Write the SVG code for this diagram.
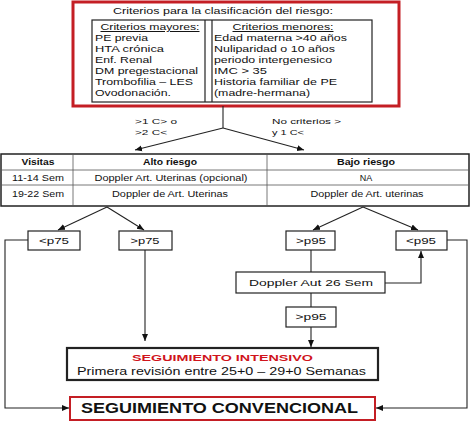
<svg xmlns="http://www.w3.org/2000/svg" width="471" height="425" viewBox="0 0 471 425">
<style>
text{font-family:"Liberation Sans",Arial,sans-serif;fill:#111}
.t{font-size:9.8px}
.s{font-size:8.5px}
.p{font-size:9.3px}
.b{font-weight:bold}
.c{text-anchor:middle}
.box{fill:#fff;stroke:#222;stroke-width:1.2}
.ln{fill:none;stroke:#222;stroke-width:1.1}
</style>
<defs>
<marker id="ah" markerWidth="8" markerHeight="8" refX="7" refY="4" orient="auto" markerUnits="userSpaceOnUse">
<path d="M0,1 L7,4 L0,7 Z" fill="#111"/>
</marker>
</defs>
<rect width="471" height="425" fill="#fff"/>

<g id="criterios">
<rect x="73" y="2" width="326" height="104" fill="#fff" stroke="#c41e24" stroke-width="3"/>
<text class="t c" x="223" y="14" textLength="220" lengthAdjust="spacingAndGlyphs">Criterios para la clasificación del riesgo:</text>
<rect x="92" y="20" width="280" height="82" fill="none" stroke="#222" stroke-width="1.2"/>
<line x1="205" y1="20" x2="205" y2="102" stroke="#222" stroke-width="1.2"/>
<line x1="212" y1="20" x2="212" y2="102" stroke="#222" stroke-width="1.2"/>
<text class="t c" x="150" y="30" textLength="99" lengthAdjust="spacingAndGlyphs" style="text-decoration:underline">Criterios mayores:</text>
<text class="t" x="95" y="41" textLength="53" lengthAdjust="spacingAndGlyphs">PE previa</text>
<text class="t" x="95" y="52" textLength="69" lengthAdjust="spacingAndGlyphs">HTA crónica</text>
<text class="t" x="95" y="63" textLength="57" lengthAdjust="spacingAndGlyphs">Enf. Renal</text>
<text class="t" x="95" y="74" textLength="103" lengthAdjust="spacingAndGlyphs">DM pregestacional</text>
<text class="t" x="95" y="85" textLength="98" lengthAdjust="spacingAndGlyphs">Trombofilia – LES</text>
<text class="t" x="95" y="96" textLength="76" lengthAdjust="spacingAndGlyphs">Ovodonación.</text>
<text class="t c" x="283" y="30" textLength="101" lengthAdjust="spacingAndGlyphs" style="text-decoration:underline">Criterios menores:</text>
<text class="t" x="214" y="41" textLength="133" lengthAdjust="spacingAndGlyphs">Edad materna &gt;40 años</text>
<text class="t" x="214" y="52" textLength="121" lengthAdjust="spacingAndGlyphs">Nuliparidad  o 10 años</text>
<text class="t" x="214" y="63" textLength="118" lengthAdjust="spacingAndGlyphs">periodo intergenesico</text>
<text class="t" x="214" y="74" textLength="53" lengthAdjust="spacingAndGlyphs">IMC &gt; 35</text>
<text class="t" x="214" y="85" textLength="123" lengthAdjust="spacingAndGlyphs">Historia familiar de PE</text>
<text class="t" x="214" y="96" textLength="96" lengthAdjust="spacingAndGlyphs">(madre-hermana)</text>
</g>

<g id="tabla">
<rect x="1" y="154" width="468" height="52" fill="#fff" stroke="#222" stroke-width="1.5"/>
<line x1="1" y1="170" x2="469" y2="170" stroke="#555" stroke-width="0.8"/>
<line x1="1" y1="185" x2="469" y2="185" stroke="#555" stroke-width="0.8"/>
<line x1="73" y1="154" x2="73" y2="206" stroke="#555" stroke-width="0.8"/>
<line x1="267" y1="154" x2="267" y2="206" stroke="#555" stroke-width="0.8"/>
<text class="s b c" x="38" y="165" textLength="33" lengthAdjust="spacingAndGlyphs">Visitas</text>
<text class="s b c" x="170" y="165" textLength="54" lengthAdjust="spacingAndGlyphs">Alto riesgo</text>
<text class="s b c" x="366" y="165" textLength="58" lengthAdjust="spacingAndGlyphs">Bajo riesgo</text>
<text class="s c" x="38" y="181" textLength="52" lengthAdjust="spacingAndGlyphs">11-14 Sem</text>
<text class="s c" x="171" y="181" textLength="153" lengthAdjust="spacingAndGlyphs">Doppler Art. Uterinas (opcional)</text>
<text class="s c" x="366" y="181" style="font-size:9px">NA</text>
<text class="s c" x="38" y="197" textLength="52" lengthAdjust="spacingAndGlyphs">19-22 Sem</text>
<text class="s c" x="170" y="197" textLength="116" lengthAdjust="spacingAndGlyphs">Doppler de Art. Uterinas</text>
<text class="s c" x="367" y="197" textLength="113" lengthAdjust="spacingAndGlyphs">Doppler de Art. uterinas</text>
</g>

<g id="p75menor"><rect class="box" x="28" y="231" width="52" height="19"/><text class="p c" x="54" y="244" textLength="30" lengthAdjust="spacingAndGlyphs">&lt;p75</text></g>
<g id="p75mayor"><rect class="box" x="119" y="231" width="53" height="19"/><text class="p c" x="145" y="244" textLength="29" lengthAdjust="spacingAndGlyphs">&gt;p75</text></g>
<g id="p95mayor"><rect class="box" x="286" y="231" width="49" height="19"/><text class="p c" x="311" y="244" textLength="30" lengthAdjust="spacingAndGlyphs">&gt;p95</text></g>
<g id="p95menor"><rect class="box" x="396" y="231" width="51" height="19"/><text class="p c" x="421" y="244" textLength="30" lengthAdjust="spacingAndGlyphs">&lt;p95</text></g>
<g id="doppler26"><rect class="box" x="236" y="272" width="149" height="21"/><text class="p c" x="311" y="286" textLength="124" lengthAdjust="spacingAndGlyphs">Doppler Aut 26 Sem</text></g>
<g id="p95mayor2"><rect class="box" x="286" y="307" width="50" height="20"/><text class="p c" x="311" y="320" textLength="31" lengthAdjust="spacingAndGlyphs">&gt;p95</text></g>

<g id="intensivo">
<rect x="67" y="348" width="311" height="32" fill="#fff" stroke="#222" stroke-width="2.2"/>
<text class="b c" x="222.5" y="361" textLength="181" lengthAdjust="spacingAndGlyphs" style="font-size:9.5px;fill:#d0141c">SEGUIMIENTO INTENSIVO</text>
<text class="c" x="221.5" y="375" textLength="289" lengthAdjust="spacingAndGlyphs" style="font-size:11.5px">Primera revisión entre 25+0 – 29+0 Semanas</text>
</g>

<g id="convencional">
<rect x="70" y="397" width="305" height="23" fill="#fff" stroke="#c41e24" stroke-width="2"/>
<text class="b c" x="219.5" y="413" textLength="277" lengthAdjust="spacingAndGlyphs" style="font-size:14px">SEGUIMIENTO CONVENCIONAL</text>
</g>

<g id="conectores">
<polyline class="ln" points="223,106 223,128"/>
<line class="ln" x1="223" y1="128" x2="135" y2="150" marker-end="url(#ah)"/>
<line class="ln" x1="223" y1="128" x2="304" y2="150" marker-end="url(#ah)"/>
<line class="ln" x1="107" y1="207" x2="58" y2="230" marker-end="url(#ah)"/>
<line class="ln" x1="107" y1="207" x2="144" y2="230" marker-end="url(#ah)"/>
<line class="ln" x1="363" y1="207" x2="313" y2="230" marker-end="url(#ah)"/>
<line class="ln" x1="363" y1="207" x2="418" y2="230" marker-end="url(#ah)"/>
<polyline class="ln" points="28,240 5,240 5,408 69,408" marker-end="url(#ah)"/>
<polyline class="ln" points="145,250 145,341" marker-end="url(#ah)"/>
<polyline class="ln" points="311,250 311,272"/>
<polyline class="ln" points="385,283 421,283 421,251" marker-end="url(#ah)"/>
<polyline class="ln" points="311,293 311,307"/>
<polyline class="ln" points="311,327 311,347" marker-end="url(#ah)"/>
<polyline class="ln" points="447,240 467,240 467,408 376,408" marker-end="url(#ah)"/>
<text x="135" y="124" textLength="42" lengthAdjust="spacingAndGlyphs" style="font-size:8px">&gt;1 C&gt; o</text>
<text x="135" y="135" textLength="32" lengthAdjust="spacingAndGlyphs" style="font-size:8px">&gt;2 C&lt;</text>
<text x="272" y="124" textLength="69" lengthAdjust="spacingAndGlyphs" style="font-size:8px">No criterios &gt;</text>
<text x="272" y="135" textLength="32" lengthAdjust="spacingAndGlyphs" style="font-size:8px">y 1 C&lt;</text>
</g>
</svg>
